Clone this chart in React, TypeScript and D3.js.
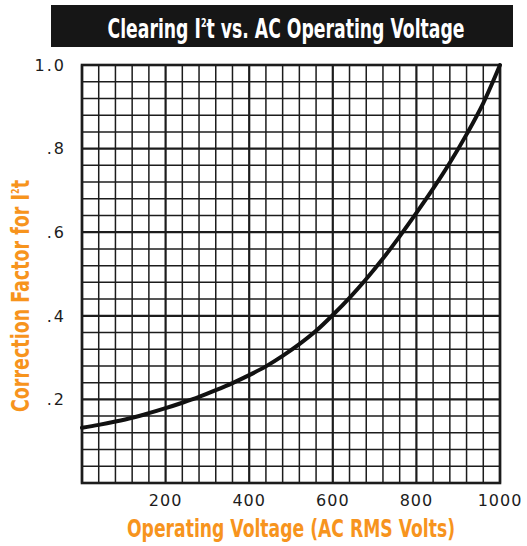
import React from "react";
import * as d3 from "d3";

// Tensión de operación (V) y factor de corrección
const voltages = [0, 40, 80, 120, 160, 200, 240, 280, 320, 360, 400, 440, 480, 520, 560, 600, 640, 680, 720, 760, 800, 840, 880, 920, 960, 1000];
const factors = [0.132, 0.139, 0.147, 0.156, 0.167, 0.179, 0.192, 0.206, 0.222, 0.239, 0.258, 0.279, 0.304, 0.332, 0.364, 0.402, 0.443, 0.488, 0.537, 0.59, 0.646, 0.704, 0.766, 0.834, 0.909, 1.0];

const xTickValues = [200, 400, 600, 800, 1000];
const yTickValues = [0.2, 0.4, 0.6, 0.8, 1.0];
const yTickLabels = [".2", ".4", ".6", ".8", "1.0"];

const App: React.FC = () => {
  const width = 527;
  const height = 546;
  const plot = { left: 82, right: 500, top: 65, bottom: 483 };
  const orange = "#f7941d";
  const ink = "#1c1c1c";
  const narrow = "'Liberation Sans Narrow', 'DejaVu Sans Condensed', sans-serif";

  const x = d3.scaleLinear().domain([0, 1000]).range([plot.left, plot.right]);
  const y = d3.scaleLinear().domain([0, 1]).range([plot.bottom, plot.top]);

  // Rejilla: 25 divisiones en cada eje
  const xGrid = d3.range(0, 1001, 40);
  const yGrid = d3.range(0, 25).map(i => i * 0.04);

  const line = d3.line<number>()
    .x((_, i) => x(voltages[i]))
    .y(d => y(d))
    .curve(d3.curveMonotoneX);

  return (
    <svg width={width} height={height} style={{ position: "absolute", left: 0, top: 0, background: "#fff" }}>
      {/* Título */}
      <rect x={51} y={5} width={462} height={42} fill="#161616" />
      <text
        x={286}
        y={38}
        textAnchor="middle"
        fill="#fff"
        fontFamily={narrow}
        fontWeight="bold"
        fontSize={26}
        textLength={357}
        lengthAdjust="spacingAndGlyphs"
      >
        Clearing I<tspan fontSize={12} baselineShift="90%">2</tspan>t vs. AC Operating Voltage
      </text>

      {/* Rejilla */}
      <g stroke={ink}>
        {xGrid.map((v, i) => (
          <line key={"vx" + i} x1={x(v)} x2={x(v)} y1={plot.top} y2={plot.bottom}
            strokeWidth={i % 5 === 0 ? 2.2 : 1.5} />
        ))}
        {yGrid.map((v, i) => (
          <line key={"hy" + i} x1={plot.left} x2={plot.right} y1={y(v)} y2={y(v)}
            strokeWidth={i % 5 === 0 ? 2.2 : 1.5} />
        ))}
        <rect x={plot.left} y={plot.top} width={plot.right - plot.left} height={plot.bottom - plot.top}
          fill="none" strokeWidth={2.6} />
      </g>

      {/* Curva */}
      <path d={line(factors) ?? ""} fill="none" stroke="#111" strokeWidth={4} strokeLinecap="round" />

      {/* Eje X */}
      {xTickValues.map(t => (
        <text key={t} x={x(t)} y={506} textAnchor="middle" fontFamily="'DejaVu Sans', sans-serif"
          fontSize={16} fill={ink} letterSpacing={1}>
          {t}
        </text>
      ))}
      {/* Eje Y */}
      {yTickValues.map((t, i) => (
        <text key={t} x={66} y={y(t)} dy="0.36em" textAnchor="end" fontFamily="'DejaVu Sans', sans-serif"
          fontSize={16} fill={ink} letterSpacing={2}>
          {yTickLabels[i]}
        </text>
      ))}

      {/* Títulos de ejes */}
      <text
        x={291}
        y={537}
        textAnchor="middle"
        fill={orange}
        fontFamily={narrow}
        fontWeight="bold"
        fontSize={24}
        textLength={328}
        lengthAdjust="spacingAndGlyphs"
      >
        Operating Voltage (AC RMS Volts)
      </text>
      <text
        transform="translate(29,296) rotate(-90)"
        textAnchor="middle"
        fill={orange}
        fontFamily={narrow}
        fontWeight="bold"
        fontSize={24}
        textLength={232}
        lengthAdjust="spacingAndGlyphs"
      >
        Correction Factor for I<tspan fontSize={11} baselineShift="90%">2</tspan>t
      </text>
    </svg>
  );
};

export default App;
